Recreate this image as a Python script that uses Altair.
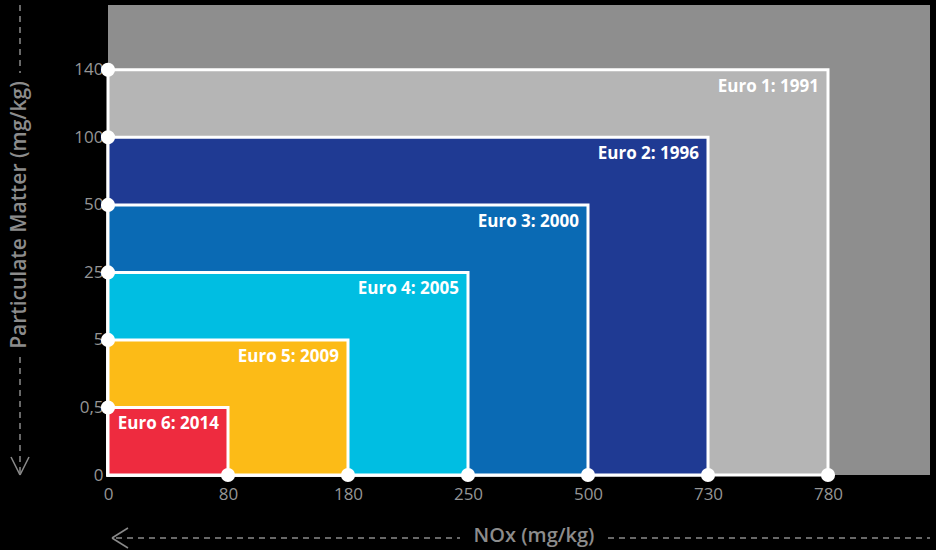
import altair as alt
import pandas as pd

# Axis tick values (drawn at evenly spaced positions, as in the reference)
nox_ticks = [0, 80, 180, 250, 500, 730, 780]
nox_tick_labels = ["0", "80", "180", "250", "500", "730", "780"]
pm_ticks = [0, 0.5, 5, 25, 50, 100, 140]
pm_tick_labels = ["0", "0,5", "5", "25", "50", "100", "140"]

# Euro emission standards
standards = ["Euro 1: 1991", "Euro 2: 1996", "Euro 3: 2000",
             "Euro 4: 2005", "Euro 5: 2009", "Euro 6: 2014"]
nox_limits = [780, 730, 500, 250, 180, 80]
pm_limits = [140, 100, 50, 25, 5, 0.5]
colors = ["#b5b5b5", "#1f3a93", "#0a6ab4", "#00bee2", "#fcbb17", "#ee2b3f"]

FONT = "Open Sans"
AXIS_GRAY = "#959595"

rects = pd.DataFrame({
    "standard": standards,
    "x0": 0,
    "y0": 0,
    "x": [nox_ticks.index(v) for v in nox_limits],
    "y": [pm_ticks.index(v) for v in pm_limits],
    "rank": list(range(len(standards))),
})

pts = pd.DataFrame(
    [{"x": i, "y": 0} for i in range(1, len(nox_ticks))]
    + [{"x": 0, "y": j} for j in range(1, len(pm_ticks))]
)

x_expr = "[" + ",".join(f"'{s}'" for s in nox_tick_labels) + "][datum.value]"
y_expr = "[" + ",".join(f"'{s}'" for s in pm_tick_labels) + "][datum.value]"

xscale = alt.Scale(domain=[0, 6.85], nice=False, zero=False)
yscale = alt.Scale(domain=[0, 6.96], nice=False, zero=False)

xaxis = alt.Axis(values=list(range(len(nox_ticks))), labelExpr=x_expr, title=None,
                 domain=False, ticks=False, grid=False, labelPadding=11,
                 labelColor=AXIS_GRAY, labelFont=FONT, labelFontSize=17, labelFlush=False)
yaxis = alt.Axis(values=list(range(len(pm_ticks))), labelExpr=y_expr, title=None,
                 domain=False, ticks=False, grid=False, labelPadding=5,
                 labelColor=AXIS_GRAY, labelFont=FONT, labelFontSize=17)

base = alt.Chart(rects)

rect_layer = base.mark_rect(stroke="white", strokeWidth=3).encode(
    x=alt.X("x0:Q", scale=xscale, axis=xaxis),
    x2="x:Q",
    y=alt.Y("y0:Q", scale=yscale, axis=yaxis),
    y2="y:Q",
    color=alt.Color("standard:N", scale=alt.Scale(domain=standards, range=colors), legend=None),
    order=alt.Order("rank:Q"),
)

label_layer = base.mark_text(
    align="right", baseline="middle", dx=-9, dy=17,
    font=FONT, fontSize=17, fontWeight="bold", color="white",
).encode(
    x=alt.X("x:Q", scale=xscale),
    y=alt.Y("y:Q", scale=yscale),
    text="standard:N",
)

point_layer = alt.Chart(pts).mark_circle(size=200, color="white", opacity=1).encode(
    x=alt.X("x:Q", scale=xscale),
    y=alt.Y("y:Q", scale=yscale),
)

one = pd.DataFrame({"k": [0]})
dash = dict(color="#8a8a8a", strokeWidth=1.5, strokeDash=[6, 5])
solid = dict(color="#8a8a8a", strokeWidth=1.5)

# Y-axis title with dashed guide and down arrow
y_title = alt.Chart(one).mark_text(
    angle=270, font=FONT, fontSize=21, fontWeight=600, color="#8c8c8c",
    align="center", baseline="middle",
).encode(x=alt.value(-88), y=alt.value(210), text=alt.value("Particulate Matter (mg/kg)"))
y_dash1 = alt.Chart(one).mark_rule(**dash).encode(
    x=alt.value(-88), y=alt.value(0), y2=alt.value(68))
y_dash2 = alt.Chart(one).mark_rule(**dash).encode(
    x=alt.value(-88), y=alt.value(352), y2=alt.value(468))
y_arr1 = alt.Chart(one).mark_rule(**solid).encode(
    x=alt.value(-97), y=alt.value(452), x2=alt.value(-88), y2=alt.value(470))
y_arr2 = alt.Chart(one).mark_rule(**solid).encode(
    x=alt.value(-79), y=alt.value(452), x2=alt.value(-88), y2=alt.value(470))

# X-axis title with dashed guides and left arrow
x_title = alt.Chart(one).mark_text(
    font=FONT, fontSize=20, fontWeight=600, color="#8c8c8c",
    align="center", baseline="middle",
).encode(x=alt.value(426), y=alt.value(531), text=alt.value("NOx (mg/kg)"))
x_dash1 = alt.Chart(one).mark_rule(**dash).encode(
    x=alt.value(8), x2=alt.value(352), y=alt.value(533))
x_dash2 = alt.Chart(one).mark_rule(**dash).encode(
    x=alt.value(500), x2=alt.value(822), y=alt.value(533))
x_arr1 = alt.Chart(one).mark_rule(**solid).encode(
    x=alt.value(20), y=alt.value(523), x2=alt.value(4), y2=alt.value(533))
x_arr2 = alt.Chart(one).mark_rule(**solid).encode(
    x=alt.value(20), y=alt.value(543), x2=alt.value(4), y2=alt.value(533))

chart = alt.layer(
    rect_layer, label_layer, point_layer,
    y_title, y_dash1, y_dash2, y_arr1, y_arr2,
    x_title, x_dash1, x_dash2, x_arr1, x_arr2,
).properties(
    width=822, height=470,
    padding={"left": 108, "top": 5, "right": 6, "bottom": 75},
    autosize=alt.AutoSizeParams(type="none"),
    background="black",
).configure_view(fill="#8e8e8e", stroke=None)

chart.save("out.html", embed_options={"renderer": "svg", "actions": False})
